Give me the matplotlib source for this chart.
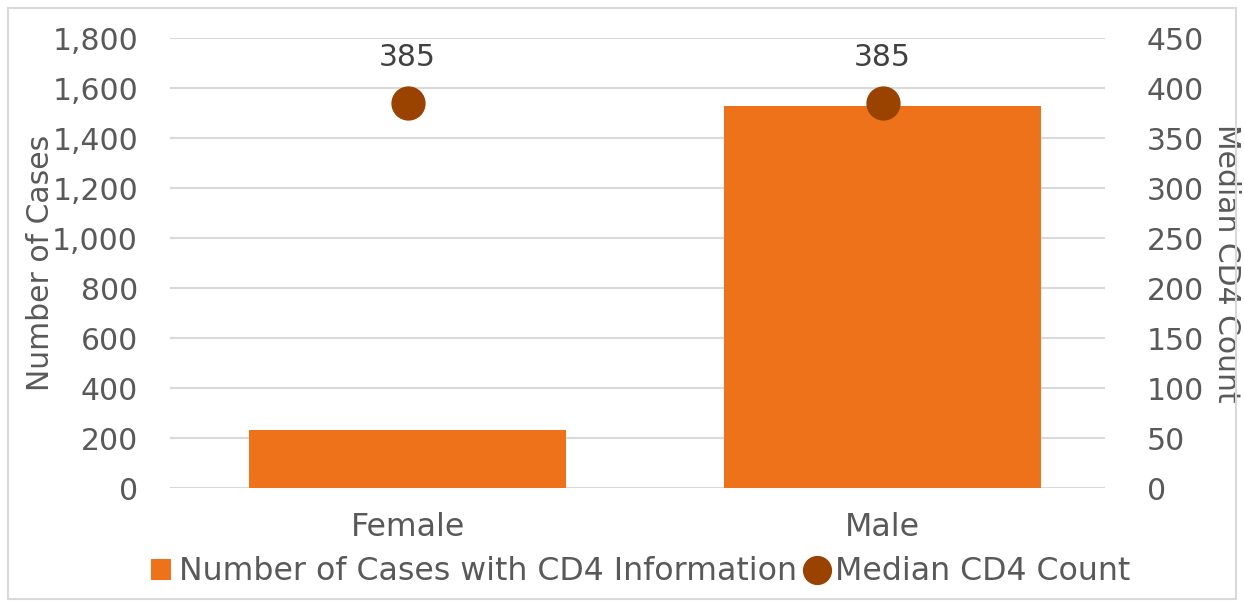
import matplotlib
matplotlib.use('Agg')
import matplotlib.pyplot as plt
from matplotlib.ticker import FuncFormatter, MultipleLocator
from matplotlib.lines import Line2D
from matplotlib.patches import Patch
import numpy as np

categories = ['Female', 'Male']
cases_with_cd4 = [232, 1528]
median_cd4 = [385, 385]

BAR_COLOR = '#EE7219'
DOT_COLOR = '#9A4200'
TEXT_COLOR = '#595959'
GRID_COLOR = '#D9D9D9'
FS = 21.5
FS_BIG = 22.8

plt.rcParams['font.family'] = ['DejaVu Sans']
plt.rcParams['font.size'] = FS

fig = plt.figure(figsize=(12.44, 6.03), dpi=100)
ax = fig.add_axes([170 / 1244, 1 - 488 / 603, (1105 - 170) / 1244, 450 / 603])

x = np.arange(len(categories))
ax.bar(x, cases_with_cd4, width=0.667, color=BAR_COLOR, zorder=2)
ax.set_xlim(-0.5, 1.468)
ax.set_ylim(0, 1800)
ax.yaxis.set_major_locator(MultipleLocator(200))
ax.yaxis.set_major_formatter(FuncFormatter(lambda v, p: f'{int(v):,}'))
ax.grid(axis='y', color=GRID_COLOR, linewidth=1.5, zorder=0)
ax.set_axisbelow(True)
ax.set_xticks(x)
ax.set_xticklabels(categories, fontsize=FS_BIG)
for s in ax.spines.values():
    s.set_visible(False)
ax.tick_params(axis='both', length=0, colors=TEXT_COLOR)
ax.tick_params(axis='y', pad=23, labelsize=FS)
ax.tick_params(axis='x', pad=17)
ax.set_ylabel('Number of Cases', color=TEXT_COLOR, fontsize=FS, labelpad=-2)

ax2 = ax.twinx()
ax2.set_ylim(0, 450)
ax2.yaxis.set_major_locator(MultipleLocator(50))
ax2.scatter(x, median_cd4, s=560, color=DOT_COLOR, zorder=3, clip_on=False)
for xi, v in zip(x, median_cd4):
    ax2.annotate(f'{v}', (xi, v), xytext=(0, 33), textcoords='offset points',
                 ha='center', va='center', color='#404040', fontsize=FS)
for s in ax2.spines.values():
    s.set_visible(False)
ax2.tick_params(axis='y', length=0, colors=TEXT_COLOR, labelsize=FS, pad=30)
ax2.set_ylabel('Median CD4 Count', color=TEXT_COLOR, fontsize=FS,
               rotation=270, labelpad=27)

handles = [Patch(facecolor=BAR_COLOR, edgecolor='none'),
           Line2D([], [], marker='o', linestyle='none', markersize=20,
                  markerfacecolor=DOT_COLOR, markeredgecolor=DOT_COLOR)]
labels = ['Number of Cases with CD4 Information', 'Median CD4 Count']
fig.legend(handles, labels, loc='center', bbox_to_anchor=(0.515, 1 - 572 / 603),
           ncol=2, frameon=False, fontsize=FS_BIG, labelcolor=TEXT_COLOR,
           handlelength=0.65, handleheight=0.65, handletextpad=0.25, columnspacing=0.3)

fig.patches.append(plt.Rectangle((8 / 1244, 4 / 603), 1 - 16 / 1244, 1 - 12 / 603,
                                 transform=fig.transFigure, fill=False,
                                 edgecolor='#D9D9D9', linewidth=1.5))

fig.savefig('out.png', dpi=100, facecolor='white')
